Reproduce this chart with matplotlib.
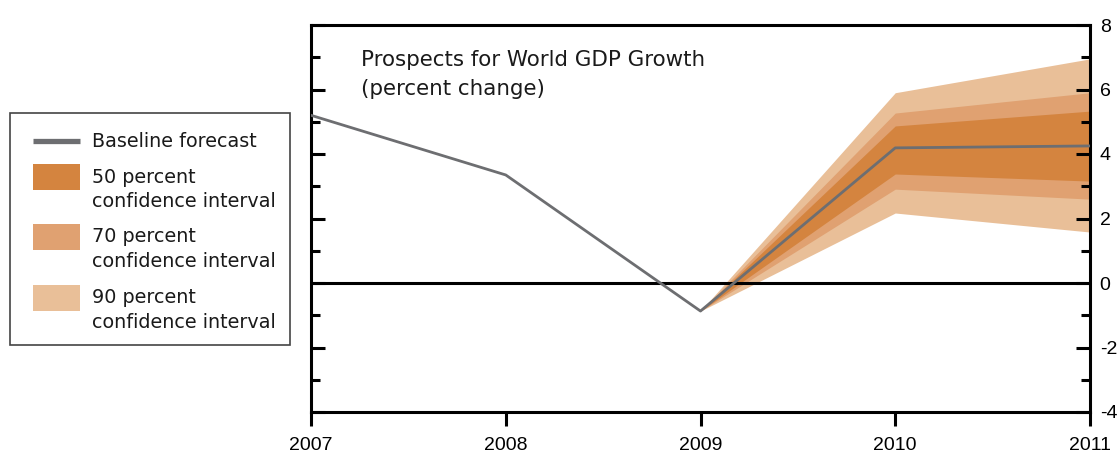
import numpy as np
import matplotlib.pyplot as plt
from matplotlib.lines import Line2D
from matplotlib.patches import Rectangle

plt.rcParams['font.family'] = ['Liberation Sans', 'DejaVu Sans']
plt.rcParams['axes.unicode_minus'] = False

# data
years = [2007, 2008, 2009, 2010, 2011]
baseline = [5.2, 3.35, -0.87, 4.19, 4.25]

fan_years = [2009, 2010, 2011]
ci50_lo = [-0.87, 3.38, 3.16]
ci50_hi = [-0.87, 4.87, 5.33]
ci70_lo = [-0.87, 2.91, 2.6]
ci70_hi = [-0.87, 5.27, 5.9]
ci90_lo = [-0.87, 2.17, 1.58]
ci90_hi = [-0.87, 5.9, 6.95]

legend_labels = ['Baseline forecast', '50 percent', 'confidence interval',
                 '70 percent', 'confidence interval',
                 '90 percent', 'confidence interval']

c50 = '#D4843F'
c70 = '#E0A171'
c90 = '#E9BF98'
cline = '#6D6E71'

W, H = 1118, 455
fig = plt.figure(figsize=(W/100, H/100), dpi=100)
ax = fig.add_axes([311/W, 1-412/H, (1090-311)/W, (412-25)/H])

def px(x, y):
    # figure pixels from top-left -> figure fraction
    return x/W, 1-y/H

ax.fill_between(fan_years, ci90_lo, ci90_hi, color=c90, lw=0)
ax.fill_between(fan_years, ci70_lo, ci70_hi, color=c70, lw=0)
ax.fill_between(fan_years, ci50_lo, ci50_hi, color=c50, lw=0)
ax.axhline(0, color='black', lw=2.2, zorder=3)
ax.plot(years, baseline, color=cline, lw=2.0, zorder=4)

ax.set_xlim(2007, 2011)
ax.set_ylim(-4, 8)
ax.set_xticks(years)
ax.set_xticklabels([str(y) for y in years])
ax.set_yticks(np.arange(-4, 9, 2))
ax.set_yticks(np.arange(-3, 8, 2), minor=True)

for s in ax.spines.values():
    s.set_linewidth(2.2)

ax.tick_params(axis='x', direction='out', length=10, width=2.2, labelsize=14, pad=8)
ax.tick_params(axis='y', which='major', direction='in', length=10, width=2.2,
               left=True, right=True, labelleft=False, labelright=True, labelsize=14, pad=7)
ax.tick_params(axis='y', which='minor', direction='in', length=6.5, width=2.2,
               left=True, right=True)

# title inside the plot
tfont = dict(family='DejaVu Sans', fontsize=15.4, va='baseline', ha='left', color='#1a1a1a')
fig.text(*px(361, 66), 'Prospects for World GDP Growth', **tfont)
fig.text(*px(361, 95), '(percent change)', **tfont)

# legend drawn by hand so the swatches line up with the first text line
box_x0, box_y0 = px(10, 345)
bx1, by1 = px(290, 113)
fig.add_artist(Rectangle((box_x0, box_y0), bx1-box_x0, by1-box_y0, transform=fig.transFigure,
                         facecolor='white', edgecolor='#444444', lw=1.2))
lx0, ly = px(33, 141)
lx1, _ = px(80, 141)
fig.add_artist(Line2D([lx0, lx1], [ly, ly], transform=fig.transFigure, color=cline, lw=3.8,
                      solid_capstyle='butt'))
for col, top in zip([c50, c70, c90], [164, 224, 285]):
    x0, y0 = px(33, top+26)
    x1, y1 = px(80, top)
    fig.add_artist(Rectangle((x0, y0), x1-x0, y1-y0, transform=fig.transFigure,
                             facecolor=col, edgecolor='none'))
lfont = dict(family='DejaVu Sans', fontsize=13.8, va='baseline', ha='left', color='#1a1a1a')
for lab, base in zip(legend_labels, [147, 183, 207, 242, 267, 303, 328]):
    fig.text(*px(92, base), lab, **lfont)

fig.savefig('out.png', dpi=100)
